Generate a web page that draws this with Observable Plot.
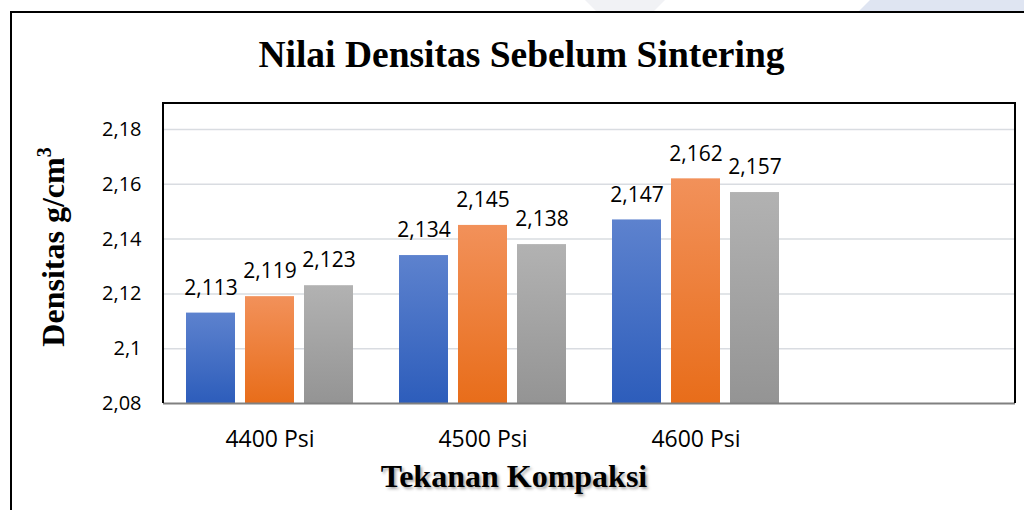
<!DOCTYPE html>
<html><head><meta charset="utf-8">
<script src="https://cdn.jsdelivr.net/npm/d3@7"></script>
<script src="https://cdn.jsdelivr.net/npm/@observablehq/plot@0.6"></script>
<style>
body{margin:0;background:#fff;width:1024px;height:510px;overflow:hidden;position:relative;font-family:"Open Sans",sans-serif;}
#wm1{position:absolute;left:585px;top:0;width:80px;height:12px;background:#f1f2f5;clip-path:polygon(0 0,100% 0,85% 100%,15% 100%);}
#wm2{position:absolute;left:858px;top:0;width:170px;height:12px;background:#dfe5f2;clip-path:polygon(12px 0,100% 0,100% 100%,0 100%);}
#outer{position:absolute;left:10px;top:11px;width:1100px;height:600px;border:2px solid #000;box-sizing:border-box;}
#chart{position:absolute;left:0;top:0;}
#frame{position:absolute;left:162px;top:102px;width:854px;height:301px;border:2px solid #000;border-bottom:none;box-sizing:border-box;pointer-events:none;}
#title{position:absolute;left:0;width:1043px;top:36px;text-align:center;font:bold 37.5px "Liberation Serif",serif;line-height:37.5px;color:#000;white-space:nowrap;}
#ylabel{position:absolute;left:55px;top:247px;transform:translate(-50%,-50%) rotate(-90deg);font:bold 32px "Liberation Serif",serif;line-height:32px;white-space:nowrap;color:#000;}
#ylabel sup{font-size:20px;vertical-align:0;position:relative;top:-13px;}
#xlabel{position:absolute;left:0;width:1028px;top:460px;text-align:center;font:bold 32px "Liberation Serif",serif;line-height:32px;white-space:nowrap;color:#000;text-shadow:2px 2px 3px rgba(0,0,0,0.35);}
</style></head>
<body>
<div id="wm1"></div><div id="wm2"></div>
<div id="outer"></div>
<div id="chart"></div>
<div id="frame"></div>
<div id="title">Nilai Densitas Sebelum Sintering</div>
<div id="ylabel">Densitas g/cm<sup>3</sup></div>
<div id="xlabel">Tekanan Kompaksi</div>
<script>
const categories = ["4400 Psi", "4500 Psi", "4600 Psi", ""];
const seriesNames = ["Seri 1", "Seri 2", "Seri 3"];
const valuesSeri1 = [2.113, 2.134, 2.147, null];
const valuesSeri2 = [2.119, 2.145, 2.162, null];
const valuesSeri3 = [2.123, 2.138, 2.157, null];
const yTicks = [2.08, 2.10, 2.12, 2.14, 2.16, 2.18];
const yMax = 2.1895;
const seriesColors = [["#5d82ce", "#2d5dbb"], ["#f2915a", "#e86d1a"], ["#b2b2b2", "#949494"]];

const allValues = [valuesSeri1, valuesSeri2, valuesSeri3];
const rows = [];
categories.forEach((c, i) => {
  allValues.forEach((vals, j) => rows.push({category: c, series: seriesNames[j], value: vals[i]}));
});
const fmt = v => String(v).replace(".", ",");

const chart = Plot.plot({
  width: 1024, height: 470,
  marginLeft: 163, marginRight: 9, marginTop: 103, marginBottom: 67,
  style: {background: "transparent", fontFamily: "'Open Sans', sans-serif", color: "#000"},
  fx: {domain: categories, paddingInner: 0, paddingOuter: 0, label: null},
  x: {domain: seriesNames, axis: null, paddingInner: 10 / 59, paddingOuter: 23 / 59},
  y: {domain: [yTicks[0], yMax], axis: null},
  color: {domain: seriesNames, range: seriesNames.map((s, i) => `url(#grad${i})`)},
  marks: [
    Plot.ruleY(yTicks.slice(1), {stroke: "#d9dce1", strokeWidth: 1.5}),
    Plot.axisY(yTicks, {tickSize: 0, tickPadding: 22, tickFormat: fmt, fontSize: 20, label: null}),
    Plot.axisFx({anchor: "bottom", tickSize: 0, tickPadding: 27, fontSize: 23, label: null}),
    Plot.barY(rows, {filter: d => d.value != null, fx: "category", x: "series", y1: yTicks[0], y2: "value", fill: "series"}),
    Plot.text(rows, {filter: d => d.value != null, fx: "category", x: "series", y: "value", text: d => fmt(d.value), dy: -25, fontSize: 21, fill: "#000"}),
    Plot.ruleY([yTicks[0]], {stroke: "#808080", strokeWidth: 2})
  ]
});
const defs = d3.select(chart).insert("defs", ":first-child");
seriesColors.forEach((c, i) => {
  const g = defs.append("linearGradient").attr("id", `grad${i}`).attr("x1", 0).attr("y1", 0).attr("x2", 0).attr("y2", 1);
  g.append("stop").attr("offset", 0).attr("stop-color", c[0]);
  g.append("stop").attr("offset", 1).attr("stop-color", c[1]);
});
document.getElementById("chart").appendChild(chart);
</script>
</body></html>
